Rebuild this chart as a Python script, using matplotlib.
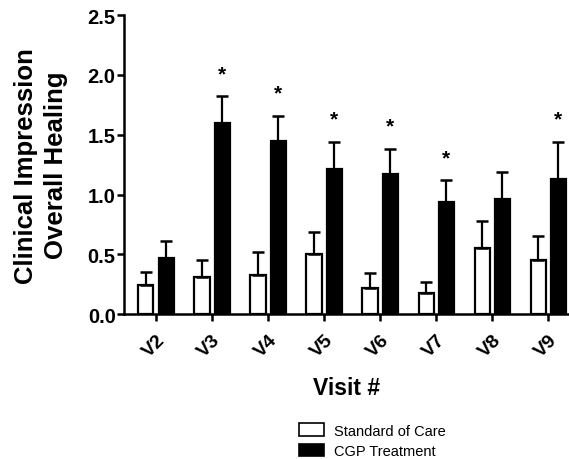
import matplotlib
matplotlib.use("Agg")
import matplotlib.pyplot as plt
import matplotlib.transforms as mtransforms
import numpy as np
from matplotlib.patches import Patch

plt.rcParams['font.family'] = ['Liberation Sans', 'DejaVu Sans']

# data
visits = ['V2', 'V3', 'V4', 'V5', 'V6', 'V7', 'V8', 'V9']
standard_mean = [0.24, 0.31, 0.33, 0.50, 0.22, 0.175, 0.555, 0.45]
standard_top = [0.35, 0.45, 0.52, 0.69, 0.34, 0.27, 0.78, 0.65]
cgp_mean = [0.47, 1.60, 1.45, 1.21, 1.175, 0.94, 0.96, 1.13]
cgp_top = [0.61, 1.82, 1.66, 1.44, 1.38, 1.12, 1.19, 1.44]
significant = [False, True, True, True, True, True, False, True]

x = np.arange(len(visits))
w = 0.27
off = 0.18

fig = plt.figure(figsize=(5.69, 4.6), dpi=100)
ax = fig.add_axes([0.218, 0.315, 0.782, 0.65])

std_err = np.array(standard_top) - np.array(standard_mean)
cgp_err = np.array(cgp_top) - np.array(cgp_mean)

ax.bar(x - off, standard_mean, w, color='white', edgecolor='black', linewidth=1.6,
       yerr=[np.zeros(len(x)), std_err], capsize=4,
       error_kw=dict(elinewidth=1.6, capthick=1.8, ecolor='black'), zorder=2)
ax.bar(x + off, cgp_mean, w, color='black', edgecolor='black', linewidth=1.6,
       yerr=[np.zeros(len(x)), cgp_err], capsize=4,
       error_kw=dict(elinewidth=1.6, capthick=1.8, ecolor='black'), zorder=2)

# significance stars
for i, sig in enumerate(significant):
    if sig:
        ax.text(x[i] + off, cgp_top[i] + 0.19, '*', ha='center', va='center',
                fontsize=15, fontweight='bold')

ax.set_xlim(-0.57, 7.37)
ax.set_ylim(0, 2.5)
ax.set_yticks([0.0, 0.5, 1.0, 1.5, 2.0, 2.5])
ax.set_yticklabels(['0.0', '0.5', '1.0', '1.5', '2.0', '2.5'], fontsize=14.5, fontweight='bold')
ax.set_xticks(x)
ax.set_xticklabels(visits, rotation=45, ha='right', rotation_mode='anchor',
                   fontsize=14, fontweight='bold')
shift = mtransforms.ScaledTranslation(-4 / 72, 0, fig.dpi_scale_trans)
for lab in ax.get_xticklabels():
    lab.set_transform(lab.get_transform() + shift)
ax.tick_params(axis='both', direction='out', length=5, width=1.8, pad=1)
ax.tick_params(axis='x', pad=7)

for side in ['top', 'right']:
    ax.spines[side].set_visible(False)
for side in ['left', 'bottom']:
    ax.spines[side].set_linewidth(1.8)
ax.spines['bottom'].set_zorder(3)

ax.set_ylabel('Clinical Impression\nOverall Healing', fontsize=18.5, fontweight='bold',
              labelpad=14, linespacing=1.3)
ax.set_xlabel('Visit #', fontsize=16.5, fontweight='bold', labelpad=12)

handles = [Patch(facecolor='white', edgecolor='black', linewidth=1.2, label='Standard of Care'),
           Patch(facecolor='black', edgecolor='black', linewidth=1.2, label='CGP Treatment')]
fig.legend(handles=handles, loc='upper left', bbox_to_anchor=(0.515, 0.09),
           frameon=False, fontsize=10.5, handlelength=1.7, handleheight=0.9,
           handletextpad=0.7, labelspacing=0.45, borderaxespad=0)

fig.savefig('out.png', dpi=100)
